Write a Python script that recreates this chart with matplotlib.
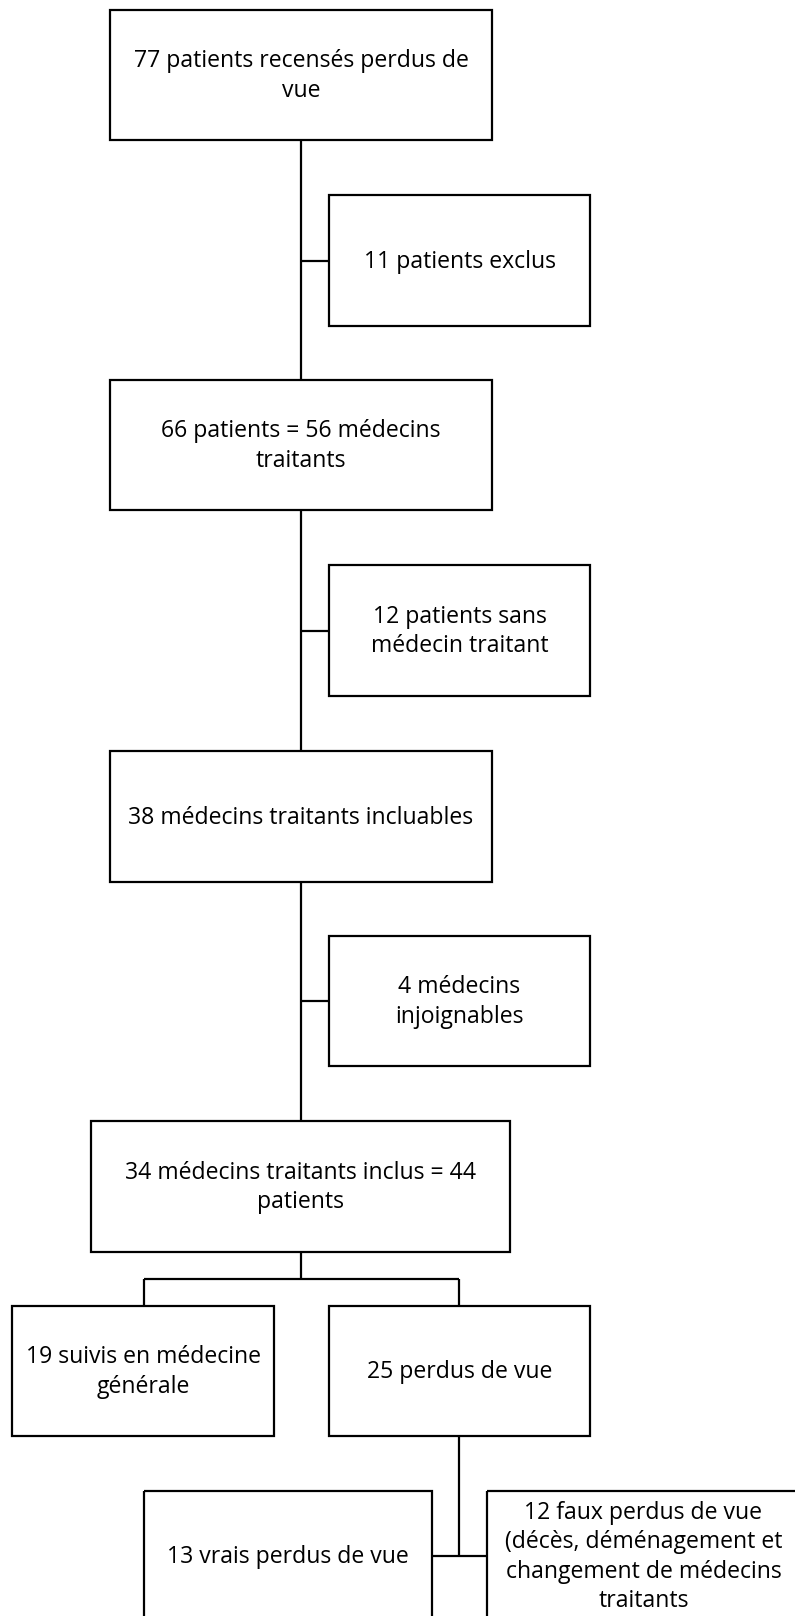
import matplotlib
matplotlib.use("Agg")
import matplotlib.pyplot as plt
from matplotlib.patches import Rectangle

# box texts, top to bottom
main_labels = [
    "77 patients recensés perdus de\nvue",
    "66 patients = 56 médecins\ntraitants",
    "38 médecins traitants incluables",
    "34 médecins traitants inclus = 44\npatients",
]
excluded_labels = [
    "11 patients exclus",
    "12 patients sans\nmédecin traitant",
    "4 médecins\ninjoignables",
]
split_labels = ["19 suivis en médecine\ngénérale", "25 perdus de vue"]
final_labels = [
    "13 vrais perdus de vue",
    "12 faux perdus de vue\n(décès, déménagement et\nchangement de médecins\ntraitants",
]

# layout (pixels, y downwards)
W, H = 795, 1616
main_boxes = [(110, 10, 492, 140), (110, 380, 492, 510), (110, 751, 492, 882), (91, 1121, 510, 1252)]
excl_boxes = [(329, 195, 590, 326), (329, 565, 590, 696), (329, 936, 590, 1066)]
split_boxes = [(12, 1306, 274, 1436), (329, 1306, 590, 1436)]
final_boxes = [(144, 1491, 432, 1621), (487, 1491, 800, 1621)]
spine_x = 301
branch_y = 1279
branch_lx, branch_rx = 144, 459
lw = 1.6

fig = plt.figure(figsize=(W / 100, H / 100), dpi=100)
ax = fig.add_axes([0, 0, 1, 1])
ax.set_xlim(0, W)
ax.set_ylim(H, 0)
ax.axis("off")

font = dict(family="Open Sans", fontsize=16.6, ha="center", va="center", linespacing=1.31)


def box(b, text):
    x0, y0, x1, y1 = b
    ax.add_patch(Rectangle((x0, y0), x1 - x0, y1 - y0, fill=False, ec="black", lw=lw, zorder=2))
    ax.text((x0 + x1) / 2, (y0 + y1) / 2 + 1, text, **font)


def line(xs, ys):
    ax.plot(xs, ys, color="black", lw=lw, solid_capstyle="butt", zorder=1)


for boxes, labels in [(main_boxes, main_labels), (excl_boxes, excluded_labels),
                      (split_boxes, split_labels), (final_boxes, final_labels)]:
    for b, t in zip(boxes, labels):
        box(b, t)

# spine between main boxes, with side branches to excluded boxes
for i in range(3):
    line([spine_x, spine_x], [main_boxes[i][3], main_boxes[i + 1][1]])
    eb = excl_boxes[i]
    cy = (eb[1] + eb[3]) / 2
    line([spine_x, eb[0]], [cy, cy])

# split into two
line([spine_x, spine_x], [main_boxes[3][3], branch_y])
line([branch_lx, branch_rx], [branch_y, branch_y])
line([branch_lx, branch_lx], [branch_y, split_boxes[0][1]])
line([branch_rx, branch_rx], [branch_y, split_boxes[1][1]])

# final split
cy = (final_boxes[0][1] + final_boxes[0][3]) / 2
line([branch_rx, branch_rx], [split_boxes[1][3], cy])
line([final_boxes[0][2], final_boxes[1][0]], [cy, cy])

fig.savefig("out.png", dpi=100, facecolor="white")
